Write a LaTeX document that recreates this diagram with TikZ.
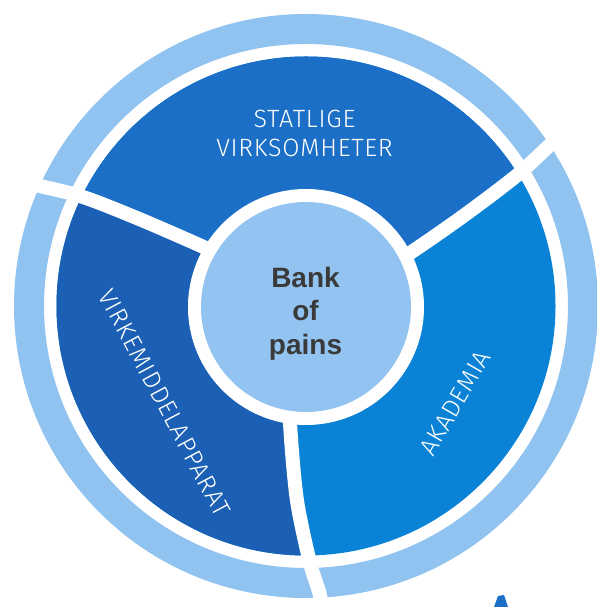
\documentclass[tikz,border=0pt]{standalone}
\usepackage{fontspec}
\newfontfamily\bankfont{Liberation Sans}
\newfontfamily\lightsans{Fira Sans Light}[LetterSpace=3]
\definecolor{ringc}{HTML}{91C3F0}
\definecolor{statc}{HTML}{1B6FC7}
\definecolor{virkc}{HTML}{1B60B5}
\definecolor{akadc}{HTML}{0A83D7}
\definecolor{corec}{HTML}{93C4F1}
\definecolor{textc}{HTML}{3A3A3A}
\begin{document}
\begin{tikzpicture}[x=1pt,y=1pt,
  sep/.style={white, line width=14pt},
  lbl/.style={font=\lightsans\fontsize{25}{29}\selectfont, text=white, align=center, inner sep=0pt},
  banklbl/.style={font=\bankfont\bfseries\fontsize{28}{33.5}\selectfont, text=textc, align=center, inner sep=0pt}]
\useasboundingbox (0,0) rectangle (597,607);
\clip (0,0) rectangle (597,607);
\fill[white] (0,0) rectangle (597,607);
\begin{scope}[shift={(306,301)}]
  % outer light ring
  \fill[ringc, even odd rule] (0,0) circle (292pt) (0,0) circle (262pt);
  % three sectors
  \begin{scope}
    \clip (0,0) circle (249.5pt);
    \fill[akadc] (0,0) circle (252pt);
    \fill[statc] (0,0) -- plot[smooth] coordinates {(27:117pt) (29.8:182pt) (31.8:249pt) (33.5:295pt) (34:330pt)}
      -- (90:420pt) -- plot[smooth] coordinates {(156.5:330pt) (156:300pt) (154:250pt) (152.5:190pt) (150:117pt)} -- cycle;
    \fill[virkc] (0,0) -- plot[smooth] coordinates {(150:117pt) (152.5:190pt) (154:250pt) (156:300pt) (156.5:330pt)}
      -- (210:420pt) -- plot[smooth] coordinates {(273.2:330pt) (272.8:291pt) (270.9:257pt) (267.3:194pt) (262.5:121pt)} -- cycle;
  \end{scope}
  % white separators
  \draw[sep] plot[smooth] coordinates {(27:100pt) (27:117pt) (29.8:182pt) (31.8:249pt) (33.5:295pt) (34:330pt)};
  \draw[sep] plot[smooth] coordinates {(150:100pt) (150:117pt) (152.5:190pt) (154:250pt) (156:300pt) (156.5:330pt)};
  \draw[sep] plot[smooth] coordinates {(262:100pt) (262.5:121pt) (267.3:194pt) (270.9:257pt) (272.8:291pt) (273.2:330pt)};
  % centre
  \fill[white] (0,-1) circle (118pt);
  \fill[corec] (0,-1) circle (105pt);
\end{scope}
\node[banklbl] (core) at (305.5,293.5) {Bank\\of\\pains};
\node[lbl] (stat) at (304.5,474) {STATLIGE\\VIRKSOMHETER};
\node[lbl, rotate=-62] (virk) at (164.5,204.5) {VIRKEMIDDELAPPARAT};
\node[lbl, rotate=60] (akad) at (455,204) {AKADEMIA};
% fragment at bottom right
\fill[statc] (494,0) -- (498,11) -- (504,12) -- (508,0) -- cycle;
\end{tikzpicture}
\end{document}
